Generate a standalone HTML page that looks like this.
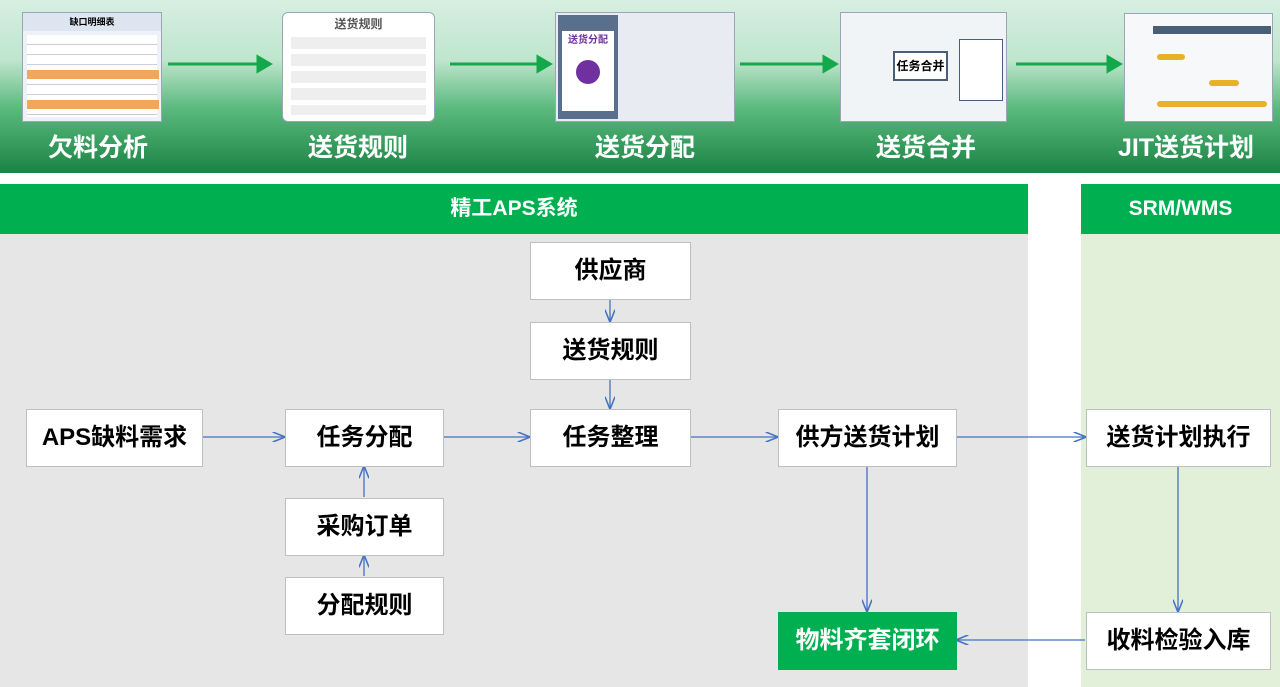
<!DOCTYPE html>
<html><head><meta charset="utf-8"><style>
*{margin:0;padding:0;box-sizing:border-box}
body{width:1280px;height:687px;position:relative;background:#fff;font-family:"Liberation Sans","Noto Sans CJK SC",sans-serif;overflow:hidden}
.top{position:absolute;left:0;top:0;width:1280px;height:173px;background:linear-gradient(#d6efe1 0%,#bfe5cd 35%,#5cba7f 62%,#1a8444 100%)}
.thumb{position:absolute;background:#fff;border:1px solid #9aa6b5}
.tl{position:absolute;top:128px;color:#fff;font-size:25px;font-weight:bold;text-align:center;width:200px}
.bar{position:absolute;top:184px;height:50px;background:#00b050;color:#fff;font-weight:bold;font-size:21px;text-align:center;line-height:50px}
.box{position:absolute;background:#fff;border:1px solid #bfbfbf;font-size:24px;font-weight:bold;text-align:center;line-height:56px;color:#000}
</style></head><body>
<div class="top"></div>
<div class="thumb" style="left:22px;top:12px;width:140px;height:110px;background:#eef2f8">
<div style="height:18px;font-size:9px;text-align:center;line-height:18px;font-weight:bold;background:#dde5f0">缺口明细表</div>
<div style="margin:4px;height:82px;background:repeating-linear-gradient(#fff 0,#fff 9px,#ccd 9px,#ccd 10px)"></div>
<div style="position:absolute;left:4px;top:57px;width:132px;height:9px;background:#f2a65a"></div>
<div style="position:absolute;left:4px;top:87px;width:132px;height:9px;background:#f2a65a"></div>
</div>
<div class="thumb" style="left:282px;top:12px;width:153px;height:110px;border-radius:6px">
<div style="text-align:center;font-size:12px;font-weight:bold;color:#555;margin-top:2px">送货规则</div>
<div style="margin:3px 8px;height:80px;background:repeating-linear-gradient(#fff 0,#fff 2px,#eee 2px,#eee 14px,#fff 14px,#fff 17px)"></div>
</div>
<div class="thumb" style="left:555px;top:12px;width:180px;height:110px;background:#e8ecf2">
<div style="position:absolute;left:2px;top:2px;width:60px;height:104px;background:#5a6f8c"></div>
<div style="position:absolute;left:6px;top:18px;width:52px;height:80px;background:#fff;color:#7030a0;font-size:10px;font-weight:bold;text-align:center">送货分配<div style="width:24px;height:24px;border-radius:50%;background:#7030a0;margin:14px auto"></div></div>
</div>
<div class="thumb" style="left:840px;top:12px;width:167px;height:110px;background:#f1f4f6">
<div style="position:absolute;left:52px;top:38px;width:55px;height:30px;background:#fff;border:2px solid #4a5e78;font-size:12px;font-weight:bold;text-align:center;line-height:26px">任务合并</div>
<div style="position:absolute;left:118px;top:26px;width:44px;height:62px;background:#fff;border:1px solid #4a5e78"></div>
</div>
<div class="thumb" style="left:1124px;top:13px;width:149px;height:109px;background:#f7f8fa">
<div style="position:absolute;left:28px;top:12px;width:118px;height:8px;background:#4a5e78"></div>
<div style="position:absolute;left:32px;top:40px;width:28px;height:6px;background:#e8b12a;border-radius:3px"></div>
<div style="position:absolute;left:84px;top:66px;width:30px;height:6px;background:#e8b12a;border-radius:3px"></div>
<div style="position:absolute;left:32px;top:87px;width:110px;height:6px;background:#e8b12a;border-radius:3px"></div>
</div>
<svg style="position:absolute;left:0;top:0" width="1280" height="173">
<g stroke="#13a84a" stroke-width="3" fill="#13a84a">
<line x1="168" y1="64" x2="262" y2="64"/><polygon points="270,64 258,57 258,71" />
<line x1="450" y1="64" x2="542" y2="64"/><polygon points="550,64 538,57 538,71"/>
<line x1="740" y1="64" x2="828" y2="64"/><polygon points="836,64 824,57 824,71"/>
<line x1="1016" y1="64" x2="1112" y2="64"/><polygon points="1120,64 1108,57 1108,71"/>
</g></svg>
<div class="tl" style="left:-2px">欠料分析</div>
<div class="tl" style="left:258px">送货规则</div>
<div class="tl" style="left:545px">送货分配</div>
<div class="tl" style="left:826px">送货合并</div>
<div class="tl" style="left:1086px">JIT送货计划</div>
<div class="bar" style="left:0;width:1028px">精工APS系统</div>
<div class="bar" style="left:1081px;width:199px">SRM/WMS</div>
<div style="position:absolute;left:0;top:234px;width:1028px;height:453px;background:#e6e6e6"></div>
<div style="position:absolute;left:1081px;top:234px;width:199px;height:453px;background:#e2efd9"></div>
<svg style="position:absolute;left:0;top:0" width="1280" height="687">
<defs><marker id="a" markerWidth="10" markerHeight="8" refX="9" refY="4" orient="auto"><path d="M0,0 L10,4 L0,8" fill="none" stroke="#4472c4" stroke-width="1.2"/></marker></defs>
<g stroke="#4472c4" stroke-width="1.3" marker-end="url(#a)">
<line x1="203" y1="437" x2="284" y2="437"/>
<line x1="444" y1="437" x2="529" y2="437"/>
<line x1="691" y1="437" x2="777" y2="437"/>
<line x1="957" y1="437" x2="1085" y2="437"/>
<line x1="610" y1="300" x2="610" y2="321"/>
<line x1="610" y1="380" x2="610" y2="408"/>
<line x1="364" y1="497" x2="364" y2="467"/>
<line x1="364" y1="576" x2="364" y2="556"/>
<line x1="867" y1="467" x2="867" y2="611"/>
<line x1="1178" y1="467" x2="1178" y2="611"/>
<line x1="1085" y1="640" x2="957" y2="640"/>
</g></svg>
<div class="box" style="left:26px;top:409px;width:177px;height:58px">APS缺料需求</div>
<div class="box" style="left:285px;top:409px;width:159px;height:58px">任务分配</div>
<div class="box" style="left:530px;top:409px;width:161px;height:58px">任务整理</div>
<div class="box" style="left:778px;top:409px;width:179px;height:58px">供方送货计划</div>
<div class="box" style="left:1086px;top:409px;width:185px;height:58px">送货计划执行</div>
<div class="box" style="left:530px;top:242px;width:161px;height:58px">供应商</div>
<div class="box" style="left:530px;top:322px;width:161px;height:58px">送货规则</div>
<div class="box" style="left:285px;top:498px;width:159px;height:58px">采购订单</div>
<div class="box" style="left:285px;top:577px;width:159px;height:58px">分配规则</div>
<div class="box" style="left:778px;top:612px;width:179px;height:58px;background:#00b050;color:#fff;border-color:#00b050">物料齐套闭环</div>
<div class="box" style="left:1086px;top:612px;width:185px;height:58px">收料检验入库</div>
</body></html>
